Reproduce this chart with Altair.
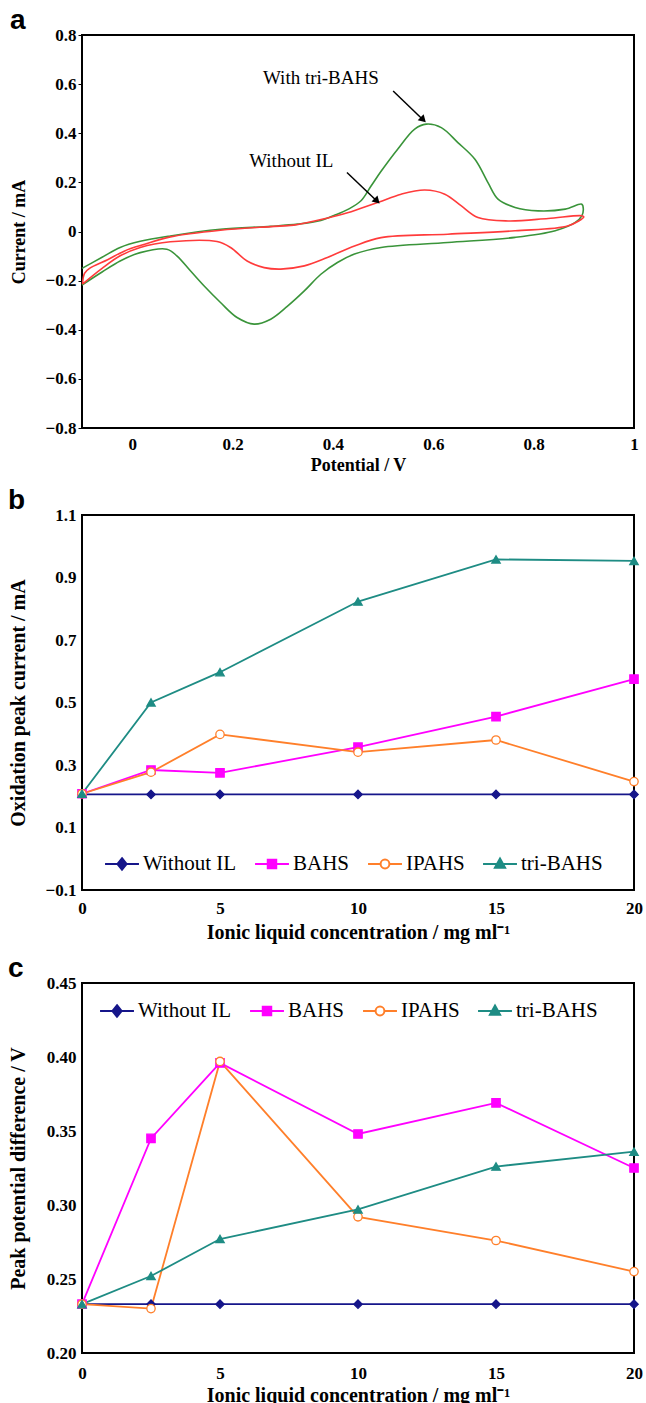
import altair as alt
import pandas as pd

# ---------------- Panel a: cyclic voltammograms ----------------
green_potential = [-0.100, -0.060, -0.024, 0.016, 0.076, 0.176, 0.276, 0.330, 0.376, 0.402, 0.430,
                   0.456, 0.476, 0.496, 0.529, 0.563, 0.586, 0.616, 0.649, 0.683, 0.709, 0.729,
                   0.763, 0.809, 0.863, 0.896, 0.899, 0.896, 0.883, 0.843, 0.763, 0.629, 0.496,
                   0.443, 0.409, 0.376, 0.343, 0.309, 0.276, 0.243, 0.209, 0.176, 0.143, 0.116,
                   0.089, 0.069, 0.016, -0.024, -0.060, -0.100]
green_current = [-0.150, -0.105, -0.065, -0.040, -0.018, 0.009, 0.021, 0.030, 0.045, 0.065, 0.090,
                 0.125, 0.185, 0.245, 0.335, 0.417, 0.437, 0.423, 0.362, 0.294, 0.199, 0.132,
                 0.098, 0.084, 0.091, 0.111, 0.091, 0.064, 0.037, 0.003, -0.024, -0.045, -0.065,
                 -0.092, -0.126, -0.174, -0.242, -0.305, -0.357, -0.377, -0.350, -0.289, -0.221, -0.160,
                 -0.099, -0.072, -0.086, -0.120, -0.165, -0.218]
red_potential = [-0.099, -0.095, -0.085, -0.049, -0.016, 0.025, 0.076, 0.176, 0.276, 0.322, 0.390,
                 0.429, 0.456, 0.492, 0.536, 0.583, 0.623, 0.656, 0.689, 0.749, 0.829, 0.896,
                 0.900, 0.869, 0.763, 0.629, 0.496, 0.443, 0.389, 0.343, 0.296, 0.263, 0.229,
                 0.196, 0.169, 0.076, 0.016, -0.024, -0.060, -0.099]
red_current = [-0.214, -0.170, -0.150, -0.115, -0.080, -0.052, -0.022, 0.005, 0.020, 0.026, 0.055,
               0.076, 0.095, 0.120, 0.152, 0.169, 0.152, 0.104, 0.057, 0.043, 0.053, 0.064,
               0.060, 0.023, 0.003, -0.011, -0.025, -0.059, -0.106, -0.140, -0.153, -0.147, -0.120,
               -0.065, -0.041, -0.042, -0.065, -0.099, -0.150, -0.214]

annot_text = ["With tri-BAHS", "Without IL"]
annot_x = [0.376, 0.317]
annot_y = [0.624, 0.287]
arrow_x = [0.520, 0.428]
arrow_y = [0.572, 0.240]
arrow_x2 = [0.578, 0.486]
arrow_y2 = [0.458, 0.127]
head_x = [0.580, 0.488]
head_y = [0.455, 0.124]

# ---------------- Panels b and c ----------------
conc = [0, 2.5, 5, 10, 15, 20]
series = ["Without IL", "BAHS", "IPAHS", "tri-BAHS"]

b_without = [0.206, 0.206, 0.206, 0.206, 0.206, 0.206]
b_bahs = [0.208, 0.284, 0.275, 0.357, 0.455, 0.575]
b_ipahs = [0.208, 0.277, 0.398, 0.341, 0.380, 0.247]
b_tri = [0.208, 0.500, 0.597, 0.823, 0.958, 0.953]

c_without = [0.233, 0.233, 0.233, 0.233, 0.233, 0.233]
c_bahs = [0.233, 0.345, 0.396, 0.348, 0.369, 0.325]
c_ipahs = [0.233, 0.230, 0.397, 0.292, 0.276, 0.255]
c_tri = [0.233, 0.252, 0.277, 0.297, 0.326, 0.336]

line_colors = ["#16168a", "#ff00ff", "#ff7f2a", "#1e8c84"]
fill_colors = ["#16168a", "#ff00ff", "#ffffff", "#1e8c84"]
point_shapes = ["diamond", "square", "circle", "triangle-up"]
legend_paths = [
    "M-1,0L1,0M0,-0.34L0.27,0L0,0.34L-0.27,0Z",
    "M-1,0L1,0M-0.25,-0.25L0.25,-0.25L0.25,0.25L-0.25,0.25Z",
    "M-1,0L-0.26,0M0.26,0L1,0M0.26,0A0.26,0.26,0,1,1,-0.26,0A0.26,0.26,0,1,1,0.26,0Z",
    "M-1,0L1,0M0,-0.32L0.3,0.22L-0.3,0.22Z",
]

SERIF = "Liberation Serif"
SANS = "Liberation Sans"
W = 552


def letter(t):
    return alt.TitleParams(text=t, anchor="start", font=SANS, fontSize=28, fontWeight="bold",
                           color="black", offset=-9)


def axis(title, values, label_expr=None, fmt=None, ticks=False, tick_size=0, tx=None, ty=None,
         title_size=20, label_pad=6):
    kw = dict(title=title, values=values, grid=False, domain=False, ticks=ticks,
              labelFont=SERIF, labelFontWeight="bold", labelFontSize=17, labelColor="black",
              titleFont=SERIF, titleFontWeight="bold", titleFontSize=title_size, titleColor="black",
              labelFlush=False, labelOverlap=False, labelPadding=label_pad, titleBaseline="middle")
    if ticks:
        kw.update(tickSize=tick_size, tickColor="black", tickWidth=1)
    if label_expr is not None:
        kw["labelExpr"] = label_expr
    if fmt is not None:
        kw["format"] = fmt
    if tx is not None:
        kw["titleX"] = tx
    if ty is not None:
        kw["titleY"] = ty
    return alt.Axis(**kw)


# ---- panel a ----
rows = []
for i, (x, y) in enumerate(zip(green_potential, green_current)):
    rows.append({"potential": x, "current": y, "curve": "With tri-BAHS", "idx": i})
for i, (x, y) in enumerate(zip(red_potential, red_current)):
    rows.append({"potential": x, "current": y, "curve": "Without IL", "idx": i})
df_a = pd.DataFrame(rows)

xa = alt.Scale(domain=[-0.1, 1.0], nice=False, zero=False)
ya = alt.Scale(domain=[-0.8, 0.8], nice=False, zero=False)

a_y_vals = [-0.8, -0.7, -0.6, -0.5, -0.4, -0.3, -0.2, -0.1, 0, 0.1, 0.2, 0.3, 0.4, 0.5, 0.6, 0.7, 0.8]

a_lines = alt.Chart(df_a).mark_line(strokeWidth=1.6, interpolate="catmull-rom").encode(
    x=alt.X("potential:Q", scale=xa,
            axis=axis("Potential / V", [0, 0.2, 0.4, 0.6, 0.8, 1.0],
                      label_expr="format(datum.value, '.1~f')", ty=37, title_size=18, label_pad=8)),
    y=alt.Y("current:Q", scale=ya,
            axis=axis("Current / mA", a_y_vals,
                      label_expr="abs(round(datum.value*10)) % 2 == 0 ? format(datum.value, '.1~f') : ''",
                      ticks=True, tick_size=4, tx=-63, title_size=18, label_pad=2)),
    color=alt.Color("curve:N", scale=alt.Scale(domain=["With tri-BAHS", "Without IL"],
                                               range=["#3a943a", "#ff3b3b"]), legend=None),
    order="idx:Q",
)

df_text = pd.DataFrame({"x": annot_x, "y": annot_y, "t": annot_text})
a_text = alt.Chart(df_text).mark_text(font=SERIF, fontSize=19, color="black").encode(
    x=alt.X("x:Q", scale=xa), y=alt.Y("y:Q", scale=ya), text="t:N")

df_arrow = pd.DataFrame({"x": arrow_x, "y": arrow_y, "x2": arrow_x2, "y2": arrow_y2,
                         "hx": head_x, "hy": head_y})
a_arrow = alt.Chart(df_arrow).mark_rule(color="black", strokeWidth=1.5).encode(
    x=alt.X("x:Q", scale=xa), y=alt.Y("y:Q", scale=ya), x2="x2:Q", y2="y2:Q")
a_head = alt.Chart(df_arrow).mark_point(shape="triangle-up", filled=True, color="black", size=70,
                                        angle=135, opacity=1).encode(
    x=alt.X("hx:Q", scale=xa), y=alt.Y("hy:Q", scale=ya))

panel_a = alt.layer(a_lines, a_text, a_arrow, a_head).properties(
    width=W, height=393, title=letter("a"))


# ---- panels b, c ----
def long_df(vals):
    out = []
    for s, v in zip(series, vals):
        for x, y in zip(conc, v):
            out.append({"conc": x, "val": y, "series": s})
    return pd.DataFrame(out)


def panel(df, ydom, yvals, yfmt, ytitle, height, leg_x, leg_y, ltr, xpad):
    xs = alt.Scale(domain=[0, 20], nice=False, zero=False)
    ys = alt.Scale(domain=ydom, nice=False, zero=False)
    xax = axis("Ionic liquid concentration / mg ml\u207b\u00b9", [0, 5, 10, 15, 20], ty=42, label_pad=xpad)
    yax = axis(ytitle, yvals, fmt=yfmt, tx=-64, label_pad=6)
    base = alt.Chart(df)
    lines = base.mark_line(strokeWidth=1.8).encode(
        x=alt.X("conc:Q", scale=xs, axis=xax),
        y=alt.Y("val:Q", scale=ys, axis=yax),
        color=alt.Color("series:N", scale=alt.Scale(domain=series, range=line_colors), legend=None),
    )
    pts = base.mark_point(filled=True, size=70, strokeWidth=1.3, opacity=1).encode(
        x=alt.X("conc:Q", scale=xs),
        y=alt.Y("val:Q", scale=ys),
        shape=alt.Shape("series:N", scale=alt.Scale(domain=series, range=point_shapes), legend=None),
        fill=alt.Fill("series:N", scale=alt.Scale(domain=series, range=fill_colors), legend=None),
        stroke=alt.Stroke("series:N", scale=alt.Scale(domain=series, range=line_colors), legend=None),
    )
    leg = alt.Legend(orient="none", legendX=leg_x, legendY=leg_y, direction="horizontal", title=None,
                     labelFont=SERIF, labelFontSize=21, labelColor="black", symbolSize=1150,
                     symbolStrokeWidth=2, columnPadding=14, labelOffset=3, padding=0)
    legend_layer = base.transform_filter("false").mark_point(filled=True, opacity=1).encode(
        shape=alt.Shape("series:N", scale=alt.Scale(domain=series, range=legend_paths), legend=leg),
        fill=alt.Fill("series:N", scale=alt.Scale(domain=series, range=fill_colors), legend=leg),
        stroke=alt.Stroke("series:N", scale=alt.Scale(domain=series, range=line_colors), legend=leg),
    )
    return alt.layer(lines, pts, legend_layer).resolve_scale(
        shape="independent", fill="independent", stroke="independent"
    ).properties(width=W, height=height, title=letter(ltr))


panel_b = panel(long_df([b_without, b_bahs, b_ipahs, b_tri]), [-0.1, 1.1],
                [-0.1, 0.1, 0.3, 0.5, 0.7, 0.9, 1.1], ".1f", "Oxidation peak current / mA",
                375, 22, 331, "b", 10)
panel_c = panel(long_df([c_without, c_bahs, c_ipahs, c_tri]), [0.20, 0.45],
                [0.20, 0.25, 0.30, 0.35, 0.40, 0.45], ".2f", "Peak potential difference / V",
                370, 17, 10, "c", 12)

chart = alt.vconcat(panel_a, panel_b, panel_c, spacing=11).resolve_scale(
    color="independent", fill="independent", stroke="independent", shape="independent"
).properties(
    padding={"left": 7, "top": 6, "right": 0, "bottom": 0},
    background="white",
).configure_view(stroke="black", strokeWidth=2).configure_axis(
    labelFont=SERIF, titleFont=SERIF
).configure_legend(labelFont=SERIF)

chart.save("out.html", embed_options={"renderer": "svg", "actions": False})
